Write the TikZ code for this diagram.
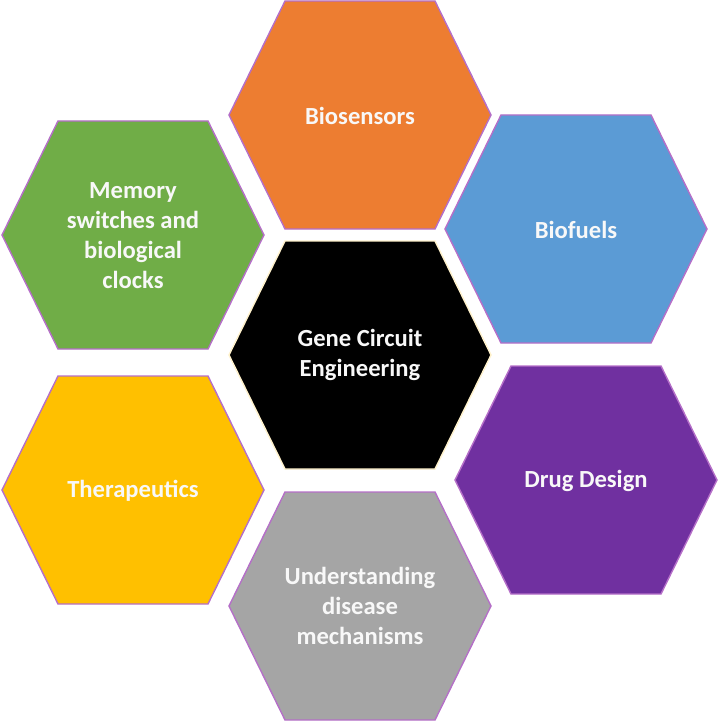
\documentclass[tikz,border=0pt]{standalone}
\usepackage{fontspec}
\setmainfont{Carlito}
\definecolor{cOrange}{HTML}{ED7D31}
\definecolor{cBlue}{HTML}{5B9BD5}
\definecolor{cPurple}{HTML}{7030A0}
\definecolor{cGrey}{HTML}{A5A5A5}
\definecolor{cYellow}{HTML}{FFC000}
\definecolor{cGreen}{HTML}{70AD47}
\definecolor{cEdge}{HTML}{B56FC8}
\definecolor{cCream}{HTML}{FFF2CC}
\definecolor{cText}{HTML}{F8F8F8}
\tikzset{
  hexcell/.style={draw=cEdge, line width=1.4bp, line join=miter},
  hexlabel/.style={text=cText, align=center, font=\bfseries\fontsize{24.6bp}{30bp}\selectfont, inner sep=0pt},
}
\newcommand{\hexshape}[4]{%
  \path[hexcell,fill=#3,#4] (#1-131,#2) -- (#1-75,#2-114) -- (#1+75,#2-114) -- (#1+131,#2) -- (#1+75,#2+114) -- (#1-75,#2+114) -- cycle;}
\begin{document}
\begin{tikzpicture}[x=1bp,y=-1bp]
\useasboundingbox (0,0) rectangle (720,721);
\hexshape{360}{115}{cOrange}{}
\hexshape{576}{229}{cBlue}{}
\hexshape{586}{480}{cPurple}{}
\hexshape{360}{606}{cGrey}{}
\hexshape{133}{490}{cYellow}{}
\hexshape{133}{235}{cGreen}{}
\hexshape{360}{355}{black}{draw=cCream}
\node[hexlabel] (center) at (360,355) {Gene Circuit\\Engineering};
\node[hexlabel] (biosensors) at (360,116) {Biosensors};
\node[hexlabel] (biofuels) at (576,230) {Biofuels};
\node[hexlabel] (drug) at (586,481) {Drug Design};
\node[hexlabel] (disease) at (360,606) {Understanding\\disease\\mechanisms};
\node[hexlabel] (therapeutics) at (133,491) {Therapeutics};
\node[hexlabel] (memory) at (133,236) {Memory\\switches and\\biological\\clocks};
\end{tikzpicture}
\end{document}
